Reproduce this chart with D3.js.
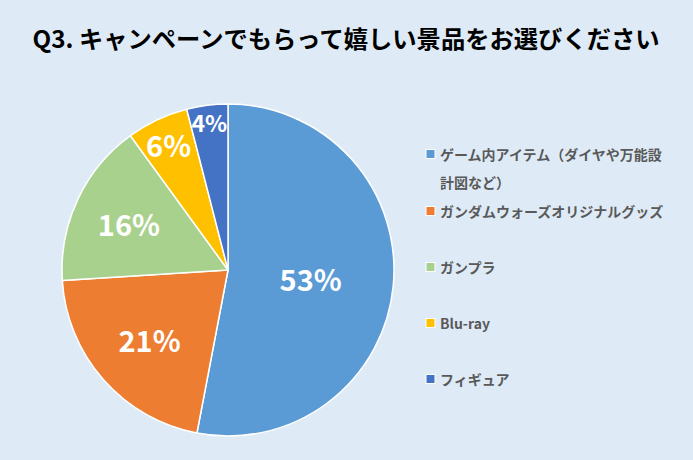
<!DOCTYPE html>
<html><head><meta charset="utf-8">
<script src="https://cdn.jsdelivr.net/npm/d3@7"></script>
<style>
html,body{margin:0;padding:0;background:#DEEBF7;}
svg{display:block;}
</style></head>
<body>
<script>
const title = "Q3. キャンペーンでもらって嬉しい景品をお選びください";
const categories = ["ゲーム内アイテム（ダイヤや万能設計図など）","ガンダムウォーズオリジナルグッズ","ガンプラ","Blu-ray","フィギュア"];
const legendLines = [["ゲーム内アイテム（ダイヤや万能設","計図など）"],["ガンダムウォーズオリジナルグッズ"],["ガンプラ"],["Blu-ray"],["フィギュア"]];
const values = [53, 21, 16, 6, 4];
const colors = ["#5B9BD5","#ED7D31","#A9D18E","#FFC000","#4472C4"];

const W = 693, H = 460;
const cx = 228, cy = 270, R = 166;
const labelRadiusFactor = [0.5, 0.63, 0.66, 0.84, 0.9];
const labelFontSize = [29, 29, 29, 29, 23];
const font = "'Noto Sans CJK JP','Noto Sans',sans-serif";

const svg = d3.select("body").append("svg").attr("width", W).attr("height", H);
svg.append("rect").attr("width", W).attr("height", H).attr("fill", "#DEEBF7");

svg.append("text").attr("x", 346).attr("y", 48).attr("text-anchor","middle")
  .attr("font-family", font).attr("font-weight", 700).attr("font-size", 24.3)
  .attr("fill", "#000").text(title);

const pie = d3.pie().sort(null).value(d => d)(values);
const arc = d3.arc().innerRadius(0).outerRadius(R);
const g = svg.append("g").attr("transform", `translate(${cx},${cy})`);
g.selectAll("path").data(pie).join("path")
  .attr("d", arc).attr("fill", (d,i) => colors[i])
  .attr("stroke", "#fff").attr("stroke-width", 1.5).attr("stroke-linejoin","round");

g.selectAll("text.lbl").data(pie).join("text").attr("class","lbl")
  .attr("transform", (d,i) => {
    const a = (d.startAngle + d.endAngle)/2, r = R*labelRadiusFactor[i];
    return `translate(${Math.sin(a)*r},${-Math.cos(a)*r})`;
  })
  .attr("text-anchor","middle").attr("dominant-baseline","central")
  .attr("font-family", font).attr("font-weight", 700)
  .attr("font-size", (d,i) => labelFontSize[i]).attr("fill","#fff")
  .text(d => d.data + "%");

const legendY = [154, 211, 267, 323, 379];
const lg = svg.append("g");
legendLines.forEach((lines, i) => {
  lg.append("rect").attr("x", 426).attr("y", legendY[i]-4.5).attr("width", 9).attr("height", 9)
    .attr("fill", colors[i]).attr("stroke","#fff").attr("stroke-width",1);
  const t = lg.append("text").attr("x", 440).attr("y", legendY[i])
    .attr("font-family", font).attr("font-weight", 700).attr("font-size", 14)
    .attr("fill", "#595959").attr("dominant-baseline","central");
  lines.forEach((ln, j) => {
    t.append("tspan").attr("x", 440).attr("dy", j === 0 ? 0 : 28).text(ln);
  });
});
</script>
</body></html>
